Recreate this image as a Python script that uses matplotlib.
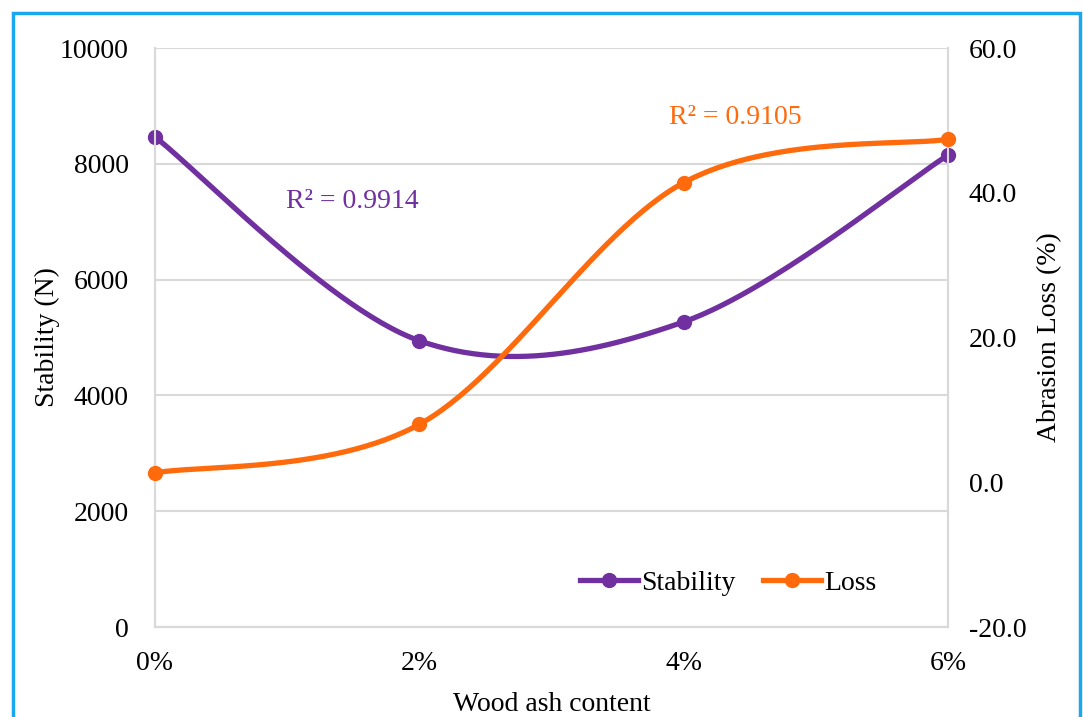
import numpy as np
import matplotlib.pyplot as plt
from matplotlib.lines import Line2D
from matplotlib.patches import Rectangle

plt.rcParams['font.family'] = ['Liberation Serif', 'DejaVu Serif']

ash_content = ['0%', '2%', '4%', '6%']
stability = [8465, 4945, 5270, 8150]      # N
abrasion_loss = [1.3, 8.0, 41.4, 47.4]    # %
r2_stability = 0.9914
r2_loss = 0.9105

PURPLE = '#7030A0'
ORANGE = '#FF6A0D'
GRID = '#D9D9D9'
FS = 20


def smooth(xs, ys, n=60):
    # Catmull-Rom style bezier through every point (like a smoothed spreadsheet line)
    p = np.column_stack([xs, ys]).astype(float)
    ext = np.vstack([p[0], p, p[-1]])
    out = []
    t = np.linspace(0, 1, n)[:, None]
    for i in range(len(p) - 1):
        p0, p1 = ext[i + 1], ext[i + 2]
        b1 = p0 + (ext[i + 2] - ext[i]) / 6
        b2 = p1 - (ext[i + 3] - ext[i + 1]) / 6
        seg = ((1 - t) ** 3) * p0 + 3 * ((1 - t) ** 2) * t * b1 \
            + 3 * (1 - t) * t ** 2 * b2 + t ** 3 * p1
        out.append(seg if i == 0 else seg[1:])
    out = np.vstack(out)
    return out[:, 0], out[:, 1]


x = np.arange(len(ash_content))

fig = plt.figure(figsize=(10.83, 7.17), dpi=100)
ax = fig.add_axes([0.1431, 0.1255, 0.8753 - 0.1431, 0.933 - 0.1255])
ax2 = ax.twinx()

# left axis: stability
ax.set_xlim(0, 3)
ax.set_ylim(0, 10000)
ax.set_yticks(np.arange(0, 10001, 2000))
ax.set_xticks(x)
ax.set_xticklabels(ash_content)
ax.grid(axis='y', color=GRID, linewidth=1.5)
ax.set_axisbelow(True)

ax2.set_ylim(-20, 60)
ax2.set_yticks(np.arange(-20, 61, 20))
ax2.set_yticklabels([f'{v:.1f}' for v in np.arange(-20, 61, 20)])

for a in (ax, ax2):
    for side, sp in a.spines.items():
        sp.set_color(GRID)
        sp.set_linewidth(1.5)
    a.spines['top'].set_visible(False)
    a.tick_params(length=0, labelsize=FS)
ax.tick_params(axis='y', pad=19)
ax.tick_params(axis='x', pad=17)
ax2.tick_params(axis='y', pad=15)

sx, sy = smooth(x, stability)
ax.plot(sx, sy, color=PURPLE, lw=3.8, solid_capstyle='round', zorder=3)
ax.plot(x, stability, 'o', color=PURPLE, ms=10, zorder=4, clip_on=False)

lx, ly = smooth(x, abrasion_loss)
ax2.plot(lx, ly, color=ORANGE, lw=3.8, solid_capstyle='round', zorder=3)
ax2.plot(x, abrasion_loss, 'o', color=ORANGE, ms=10, zorder=4, clip_on=False)

ax.set_xlabel('Wood ash content', fontsize=FS, labelpad=12)
ax.set_ylabel('Stability (N)', fontsize=FS, labelpad=0)
ax2.set_ylabel('Abrasion Loss (%)', fontsize=FS, labelpad=8)

fig.text(352 / 1083, 1 - 201 / 717, f'R² = {r2_stability:.4f}', color=PURPLE,
         fontsize=FS, ha='center', va='center')
fig.text(735 / 1083, 1 - 118 / 717, f'R² = {r2_loss:.4f}', color=ORANGE,
         fontsize=FS, ha='center', va='center')

handles = [Line2D([], [], color=PURPLE, lw=3.8, marker='o', ms=10),
           Line2D([], [], color=ORANGE, lw=3.8, marker='o', ms=10)]
fig.legend(handles, ['Stability', 'Loss'], loc='center',
           bbox_to_anchor=(728 / 1083, 1 - 583 / 717), ncol=2, frameon=False,
           fontsize=FS, handlelength=2.1, handletextpad=0.1, columnspacing=1.0)

# blue frame around the figure
fig.patches.append(Rectangle((13 / 1083, -0.02), (1080 - 13) / 1083, 1.02 - 13 / 717,
                             transform=fig.transFigure, fill=False,
                             edgecolor='#1AA7EC', linewidth=2.5))

fig.savefig('out.png', dpi=100)
